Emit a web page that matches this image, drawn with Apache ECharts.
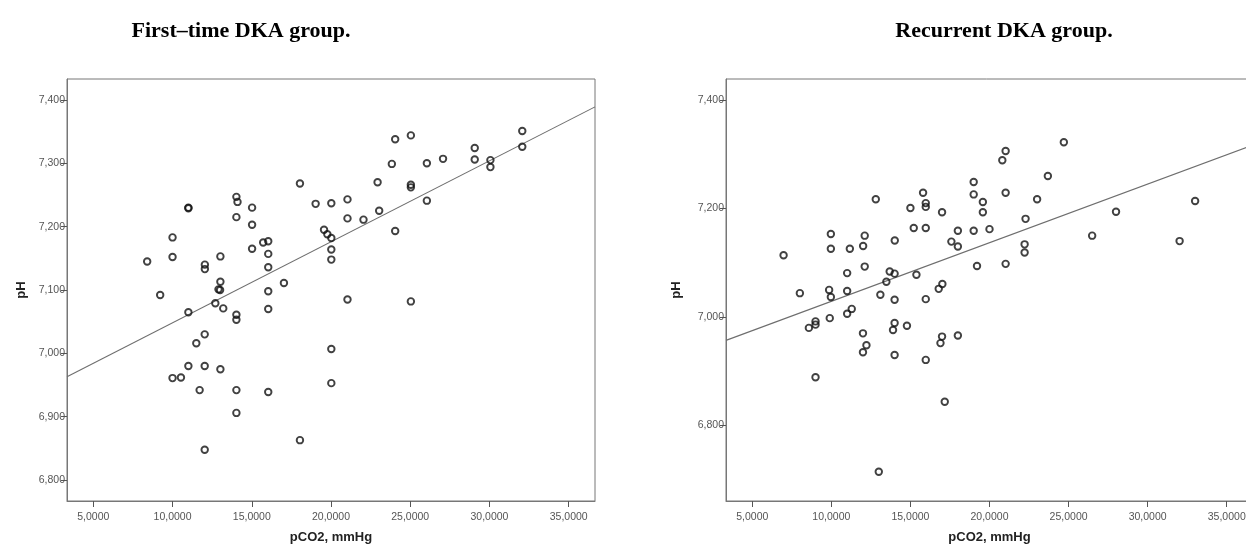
<!DOCTYPE html>
<html>
<head>
<meta charset="utf-8">
<script src="https://cdn.jsdelivr.net/npm/echarts@6/dist/echarts.min.js"></script>
<style>
  html, body { margin: 0; padding: 0; background: #fff; }
  #chart { width: 1246px; height: 546px; }
</style>
</head>
<body>
<div id="chart"></div>
<script>
// First-time DKA group: pCO2 (mmHg) and pH per patient
const firstPco2 = [8.40, 9.22, 10.0, 10.0, 11.0, 11.0, 12.04, 12.04, 13.02, 13.02, 12.9, 13.0, 12.7, 13.2,
  14.03, 14.1, 14.03, 15.02, 15.02, 15.02, 15.72, 16.04, 16.04, 16.04, 17.03, 16.04, 16.04, 18.04, 19.03,
  11.0, 12.03, 11.5, 11.0, 12.03, 13.02, 10.0, 10.53, 11.71, 14.03, 16.04, 14.03, 12.03, 18.04, 14.03, 14.03,
  20.02, 21.04, 21.04, 22.05, 19.56, 19.77, 20.02, 20.02, 20.02, 21.04, 25.04, 23.04, 22.94, 24.05, 25.04,
  23.84, 26.05, 27.07, 29.07, 29.07, 30.06, 30.06, 32.07, 32.07, 25.04, 25.04, 26.05, 24.05, 20.02, 20.02];
const firstPh = [7.145, 7.092, 7.183, 7.152, 7.230, 7.229, 7.140, 7.133, 7.153, 7.113, 7.101, 7.100, 7.079, 7.071,
  7.247, 7.239, 7.215, 7.230, 7.203, 7.165, 7.175, 7.177, 7.157, 7.136, 7.111, 7.098, 7.070, 7.268, 7.236,
  7.065, 7.030, 7.016, 6.980, 6.980, 6.975, 6.961, 6.962, 6.942, 6.942, 6.939, 6.906, 6.848, 6.863, 7.061, 7.053,
  7.237, 7.243, 7.213, 7.211, 7.195, 7.188, 7.182, 7.164, 7.148, 7.085, 7.082, 7.225, 7.270, 7.338, 7.344,
  7.299, 7.300, 7.307, 7.324, 7.306, 7.305, 7.294, 7.351, 7.326, 7.266, 7.262, 7.241, 7.193, 7.007, 6.953];

// Recurrent DKA group
const recPco2 = [6.98, 8.01, 9.97, 9.97, 11.17, 12.01, 12.11, 11.0, 12.11, 12.81, 14.01, 13.69, 14.0, 13.48,
  15.0, 15.21, 15.80, 15.97, 15.97, 15.97, 15.38, 17.0, 17.02, 16.79, 9.86, 9.97, 11.0, 13.1, 14.0, 15.97,
  11.29, 11.0, 9.9, 8.58, 9.0, 9.0, 12.0, 12.22, 12.0, 14.0, 13.9, 14.78, 14.0, 15.97, 17.0, 16.9, 9.0,
  17.17, 13.0, 18.0, 19.0, 19.0, 19.58, 19.58, 20.81, 21.02, 21.02, 18.0, 19.0, 20.0, 17.59, 18.0, 19.21,
  21.02, 22.28, 22.22, 22.22, 23.01, 23.69, 24.70, 26.49, 28.0, 32.02, 33.0];
const recPh = [7.114, 7.044, 7.153, 7.126, 7.126, 7.131, 7.150, 7.081, 7.093, 7.217, 7.141, 7.084, 7.080, 7.065,
  7.201, 7.164, 7.229, 7.210, 7.203, 7.164, 7.078, 7.193, 7.061, 7.052, 7.050, 7.037, 7.048, 7.041, 7.032, 7.033,
  7.015, 7.006, 6.998, 6.980, 6.992, 6.986, 6.970, 6.948, 6.935, 6.989, 6.976, 6.984, 6.930, 6.921, 6.964, 6.952, 6.889,
  6.844, 6.715, 6.966, 7.249, 7.226, 7.212, 7.193, 7.289, 7.306, 7.229, 7.159, 7.159, 7.162, 7.139, 7.130, 7.094,
  7.098, 7.181, 7.134, 7.119, 7.217, 7.260, 7.322, 7.150, 7.194, 7.140, 7.214];

// Fit-line end points (pCO2, pH)
const firstFitX = [3.34, 36.66];
const firstFitY = [6.963, 7.389];
const recFitX = [3.34, 36.66];
const recFitY = [6.957, 7.317];

// Tick labels
const xTicks = [5, 10, 15, 20, 25, 30, 35];
const firstYTicks = [6.8, 6.9, 7.0, 7.1, 7.2, 7.3, 7.4];
const recYTicks = [6.8, 7.0, 7.2, 7.4];

const titles = ['First\u2013time DKA group.', 'Recurrent DKA group.'];
const xName = 'pCO2, mmHg';
const yName = 'pH';

const zip = (xs, ys) => xs.map((x, i) => [x, ys[i]]);
const comma = (v, d) => v.toFixed(d).replace('.', ',');

const frameColor = '#777';
const labelStyle = { color: '#555', fontFamily: 'Liberation Sans, Arial, sans-serif', fontSize: 10.5 };
const nameStyle = { color: '#222', fontFamily: 'Liberation Sans, Arial, sans-serif', fontSize: 13, fontWeight: 'bold' };

function xAxis(gridIndex) {
  return {
    type: 'value', gridIndex, min: 3.34, max: 36.66,
    name: xName, nameLocation: 'middle', nameGap: 30, nameTextStyle: nameStyle,
    axisLine: { show: true, onZero: false, lineStyle: { color: frameColor, width: 1 } },
    axisTick: { show: true, length: 6, customValues: xTicks, lineStyle: { color: '#555' } },
    axisLabel: { customValues: xTicks, margin: 11, formatter: v => comma(v, 4), ...labelStyle },
    splitLine: { show: false }
  };
}
function yAxis(gridIndex, min, max, ticks, gap) {
  return {
    type: 'value', gridIndex, min, max,
    name: yName, nameLocation: 'middle', nameGap: gap, nameRotate: 90, nameTextStyle: nameStyle,
    axisLine: { show: true, onZero: false, lineStyle: { color: frameColor, width: 1 } },
    axisTick: { show: true, length: 6, customValues: ticks, lineStyle: { color: '#555' } },
    axisLabel: { customValues: ticks, margin: 2, formatter: v => comma(v, 3), ...labelStyle },
    splitLine: { show: false }
  };
}

const scatterStyle = {
  type: 'scatter', symbol: 'circle', symbolSize: 6.5,
  itemStyle: { color: 'rgba(255,255,255,0)', borderColor: '#111', borderWidth: 1.9 },
  emphasis: { disabled: true }, z: 3
};
const fitStyle = {
  type: 'line', symbol: 'none', silent: true,
  lineStyle: { color: '#6e6e6e', width: 1.1 }, z: 2
};

const gridBase = { show: true, borderColor: frameColor, borderWidth: 1, backgroundColor: 'transparent', outerBoundsMode: 'none', containLabel: false };

const chart = echarts.init(document.getElementById('chart'), null, { renderer: 'canvas' });
chart.setOption({
  animation: false,
  backgroundColor: '#fff',
  grid: [
    { ...gridBase, left: 67, top: 79, width: 528, height: 422 },
    { ...gridBase, left: 726, top: 79, width: 527, height: 422 }
  ],
  xAxis: [xAxis(0), xAxis(1)],
  yAxis: [yAxis(0, 6.767, 7.433, firstYTicks, 39), yAxis(1, 6.661, 7.4387, recYTicks, 43)],
  graphic: [
    { type: 'text', x: 241, y: 31, style: { text: titles[0], font: 'bold 22px "Liberation Serif", "Times New Roman", serif', fill: '#000', textAlign: 'center', textVerticalAlign: 'middle' } },
    { type: 'text', x: 1004, y: 31, style: { text: titles[1], font: 'bold 22px "Liberation Serif", "Times New Roman", serif', fill: '#000', textAlign: 'center', textVerticalAlign: 'middle' } }
  ],
  series: [
    { ...fitStyle, xAxisIndex: 0, yAxisIndex: 0, data: zip(firstFitX, firstFitY) },
    { ...scatterStyle, xAxisIndex: 0, yAxisIndex: 0, data: zip(firstPco2, firstPh) },
    { ...fitStyle, xAxisIndex: 1, yAxisIndex: 1, data: zip(recFitX, recFitY) },
    { ...scatterStyle, xAxisIndex: 1, yAxisIndex: 1, data: zip(recPco2, recPh) }
  ]
});
</script>
</body>
</html>
